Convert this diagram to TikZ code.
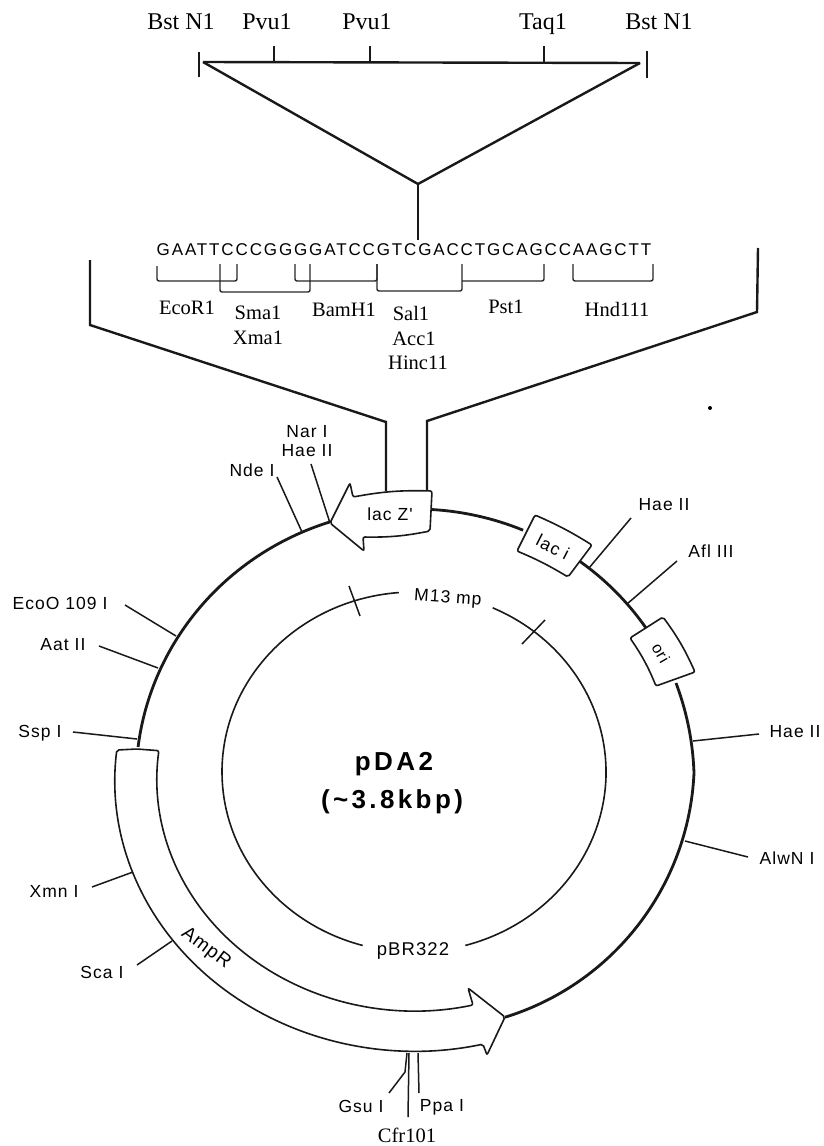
\documentclass[tikz,border=0pt]{standalone}
\usepackage{fontspec}
\usepackage{tikz}
\usepackage{xcolor}
\setmainfont{Liberation Serif}
\newfontfamily\seqfont[LetterSpace=11]{Liberation Sans}
\newfontfamily\sitefont[LetterSpace=6]{Liberation Sans}
\newfontfamily\namefont[LetterSpace=13]{Liberation Sans}

\begin{document}
\begin{tikzpicture}[x=1pt,y=1pt,
		bar/.style={line width=2.4pt, black!90},
		brace/.style={line width=1.4pt, black!85, rounded corners=2pt},
		ring/.style={line width=2.8pt, black!90},
		thinring/.style={line width=1.6pt, black!90},
		siteline/.style={line width=1.5pt, black!90},
		box/.style={line width=1.6pt, black!90, rounded corners=2pt},
		bigtext/.style={inner sep=0pt, anchor=base, font=\fontsize{24}{26}\selectfont},
		enzyme/.style={inner sep=0pt, text depth=0pt, font=\fontsize{20.5}{22}\selectfont},
		site/.style={inner sep=0pt, text depth=0pt, font=\sitefont\fontsize{17.5}{19}\selectfont},
		plasmid/.style={inner sep=0pt, anchor=base, font=\namefont\bfseries\fontsize{26}{28}\selectfont}]
	\useasboundingbox (0,0) rectangle (824,-1146);

	% Insert scale
	\coordinate (barL) at (203,-62);
	\coordinate (barR) at (640,-63);
	\coordinate (apex) at (418,-184);
	\coordinate (stem) at (418,-240);
	\draw[bar] (barL) -- (barR);
	\draw[bar] (barL) -- (apex) -- (barR);
	\draw[bar] (apex) -- (stem);
	\draw[siteline] (199,-52) coordinate (tickLa) -- (199,-77) coordinate (tickLb);
	\draw[siteline] (647,-51) coordinate (tickRa) -- (647,-78) coordinate (tickRb);
	\draw[siteline] (274,-46) coordinate (tickA) -- (274,-62) coordinate (tickAb);
	\draw[siteline] (370,-46) coordinate (tickB) -- (370,-62) coordinate (tickBb);
	\draw[siteline] (544,-46) coordinate (tickC) -- (544,-62) coordinate (tickCb);

	% Insert labels
	\node[bigtext] (bstL) at (181,-29) {Bst N1};
	\node[bigtext] (pvuA) at (267,-29) {Pvu1};
	\node[bigtext] (pvuB) at (367,-29) {Pvu1};
	\node[bigtext] (taq) at (543,-29) {Taq1};
	\node[bigtext] (bstR) at (659,-29) {Bst N1};

	% Polylinker
	\node[inner sep=0pt, font=\seqfont\fontsize{17}{19}\selectfont] (polylinker) at (404,-250) {GAATTCCCGGGGATCCGTCGACCTGCAGCCAAGCTT};
	\draw[brace] (157,-266) -- (157,-281) -- (237,-281) -- (237,-264);
	\draw[brace] (220,-264) -- (220,-292) -- (310,-292) -- (310,-264);
	\draw[brace] (295,-264) -- (295,-281) -- (377,-281) -- (377,-264);
	\draw[brace] (377,-264) -- (377,-291) -- (462,-291) -- (462,-264);
	\draw[brace] (462,-281) -- (544,-281) -- (544,-264);
	\draw[brace] (573,-264) -- (573,-281) -- (653,-281) -- (653,-264);
	\node[enzyme] (ecor) at (187,-308) {EcoR1};
	\node[enzyme] (sma) at (258,-313) {Sma1};
	\node[enzyme] (xma) at (258,-338) {Xma1};
	\node[enzyme] (bam) at (344,-310) {BamH1};
	\node[enzyme] (sal) at (411,-313) {Sal1};
	\node[enzyme] (acc) at (414,-339) {Acc1};
	\node[enzyme] (hinc) at (418,-363) {Hinc11};
	\node[enzyme] (pst) at (506,-307) {Pst1};
	\node[enzyme] (hnd) at (617,-309) {Hnd111};

	% Funnel
	\draw[bar] (90,-260) coordinate (funLa) -- (90,-325) coordinate (funLb) -- (386,-422) coordinate (funLc) -- (386,-491) coordinate (funLd);
	\draw[bar] (758,-248) coordinate (funRa) -- (757,-312) coordinate (funRb) -- (427,-421) coordinate (funRc) -- (427,-491) coordinate (funRd);
	\fill (710,-408) circle (2pt);

	% Plasmid ring
	\draw[ring] (415,-780) ++(86.5:279pt and 271pt) arc[start angle=86.5, end angle=67.2, x radius=279pt, y radius=271pt];
	\draw[ring] (415,-780) ++(55:279pt and 271pt) arc[start angle=55, end angle=34, x radius=279pt, y radius=271pt];
	\draw[ring] (415,-780) ++(107.8:279pt and 271pt) arc[start angle=107.8, end angle=173, x radius=279pt, y radius=271pt];
	\draw[ring] (676,-683) .. controls (688,-715) and (693,-745) .. (694,-773) arc[start angle=-2.6, end angle=-72.9, radius=268.3pt];

	% Inner ring
	\draw[thinring] (414,-772) ++(94.5:192pt and 180pt) arc[start angle=94.5, end angle=254.5, x radius=192pt, y radius=180pt];
	\draw[thinring] (414,-772) ++(-74.5:192pt and 180pt) arc[start angle=-74.5, end angle=65.8, x radius=192pt, y radius=180pt];
	\draw[siteline] (349,-586) coordinate (markAa) -- (360,-616) coordinate (markAb);
	\draw[siteline] (545,-620) coordinate (markBa) -- (522,-644) coordinate (markBb);

	% Genes
	\draw[box, fill=white] (137,-749) -- (116.8,-750) arc[start angle=173.6, end angle=283.1, x radius=300pt, y radius=271pt] -- (487,-1055) -- (505,-1017) -- (468,-988) -- (473,-1005) arc[start angle=283, end angle=173, x radius=258pt, y radius=232pt] -- cycle;
	\draw[box, fill=white] (330,-523) -- (350,-483) -- (353,-497) to[bend left=6] (432,-491) -- (430,-531) to[bend left=6] (363,-537) -- (364,-551) -- cycle;
	\draw[box, fill=white] (535,-515) to[bend left=4] (592,-545) -- (568,-577) to[bend right=4] (517,-551) -- cycle;
	\draw[box, fill=white] (663,-617) to[bend left=6] (695,-672) -- (656,-686) to[bend right=6] (630,-638) -- cycle;
	\node[site] (lacz) at (390,-514) {lac Z'};
	\node[site, rotate=-27] (laci) at (553,-547) {lac i};
	\node[site, rotate=-60, font=\sitefont\fontsize{16}{18}\selectfont] (ori) at (661,-653) {ori};
	\node[site, rotate=-37, font=\sitefont\fontsize{19}{21}\selectfont] (amp) at (207,-947) {AmpR};

	% Ring labels
	\node[site, rotate=-4, fill=white, inner sep=1pt] (m13) at (448,-597) {M13 mp};
	\node[site, font=\sitefont\fontsize{18.5}{20}\selectfont] (pbr) at (413,-949) {pBR322};
	\node[plasmid] (name) at (394,-770) {pDA2};
	\node[plasmid] (size) at (392,-808) {(\textasciitilde3.8kbp)};

	% Sites top
	\node[site] (nar) at (307,-431) {Nar I};
	\node[site] (haeA) at (307,-450) {Hae II};
	\node[site] (nde) at (252,-470) {Nde I};
	\node[site] (haeB) at (664,-504) {Hae II};
	\node[site] (afl) at (711,-551) {Afl III};
	\node[site] (haeC) at (795,-731) {Hae II};
	\node[site] (alw) at (787,-858) {AlwN I};
	\draw[siteline] (311,-464) coordinate (narEnd) -- (330,-523) coordinate (narFoot);
	\draw[siteline] (277,-477) coordinate (ndeEnd) -- (302,-532) coordinate (ndeFoot);
	\draw[siteline] (631,-518) coordinate (haeBEnd) -- (589,-568) coordinate (haeBFoot);
	\draw[siteline] (677,-561) coordinate (aflEnd) -- (627,-604) coordinate (aflFoot);
	\draw[siteline] (759,-734) coordinate (haeCEnd) -- (693,-741) coordinate (haeCFoot);
	\draw[siteline] (748,-857) coordinate (alwEnd) -- (685,-841) coordinate (alwFoot);

	% Sites left
	\node[site] (eco) at (60,-603) {EcoO 109 I};
	\node[site] (aat) at (63,-644) {Aat II};
	\node[site] (ssp) at (40,-731) {Ssp I};
	\node[site] (xmn) at (54,-891) {Xmn I};
	\node[site] (sca) at (102,-972) {Sca I};
	\draw[siteline] (125,-605) coordinate (ecoEnd) -- (176,-636) coordinate (ecoFoot);
	\draw[siteline] (99,-646) coordinate (aatEnd) -- (158,-668) coordinate (aatFoot);
	\draw[siteline] (73,-732) coordinate (sspEnd) -- (137,-739) coordinate (sspFoot);
	\draw[siteline] (92,-887) coordinate (xmnEnd) -- (133,-872) coordinate (xmnFoot);
	\draw[siteline] (137,-965) coordinate (scaEnd) -- (172,-941) coordinate (scaFoot);

	% Sites bottom
	\node[site] (gsu) at (361,-1106) {Gsu I};
	\node[site] (ppa) at (442,-1105) {Ppa I};
	\node[enzyme] (cfr) at (407,-1135) {Cfr101};
	\draw[siteline] (407,-1053) coordinate (gsuFoot) -- (405,-1072) -- (389,-1093) coordinate (gsuEnd);
	\draw[siteline] (409,-1053) coordinate (cfrFoot) -- (408,-1117) coordinate (cfrEnd);
	\draw[siteline] (418,-1053) coordinate (ppaFoot) -- (419,-1093) coordinate (ppaEnd);
\end{tikzpicture}
\end{document}
